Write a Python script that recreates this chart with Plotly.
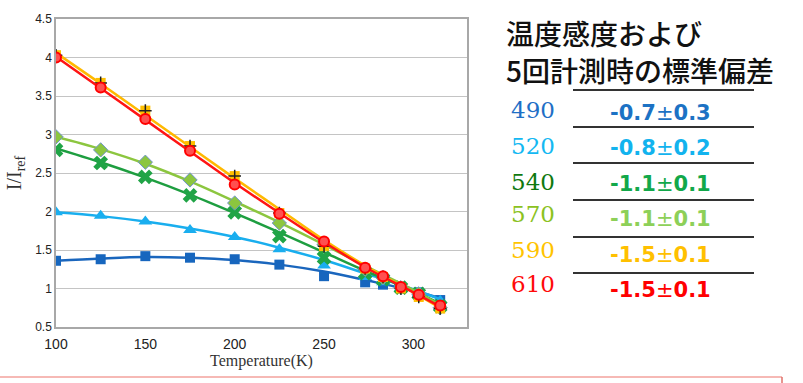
import plotly.graph_objects as go

# Measured relative intensity I/I_ref per emission wavelength
temperature = [100, 125, 150, 175, 200, 225, 250, 273, 283, 293, 303, 315]
i490 = [1.36, 1.38, 1.42, 1.40, 1.38, 1.31, 1.16, 1.08, 1.05, 1.02, 0.95, 0.85]
i520 = [1.99, 1.945, 1.87, 1.76, 1.67, 1.51, 1.30, 1.15, 1.08, 1.01, 0.94, 0.84]
i540 = [2.80, 2.63, 2.45, 2.21, 1.99, 1.68, 1.40, 1.20, 1.12, 1.01, 0.93, 0.77]
i570 = [2.97, 2.80, 2.64, 2.41, 2.11, 1.85, 1.57, 1.25, 1.14, 1.01, 0.93, 0.75]
i590 = [4.03, 3.67, 3.31, 2.85, 2.46, 1.98, 1.55, 1.26, 1.15, 1.00, 0.89, 0.74]
i610 = [4.00, 3.61, 3.20, 2.79, 2.35, 1.97, 1.61, 1.27, 1.16, 1.02, 0.92, 0.78]

# Trend curves
trend_t = [100, 125, 150, 175, 200, 225, 250, 275, 300, 317]
f490 = [1.36, 1.39, 1.41, 1.40, 1.37, 1.31, 1.22, 1.10, 0.97, 0.86]
f520 = [1.99, 1.94, 1.87, 1.78, 1.67, 1.53, 1.37, 1.18, 0.99, 0.84]
f540 = [2.82, 2.64, 2.44, 2.22, 1.98, 1.73, 1.47, 1.21, 0.97, 0.78]
f570 = [2.97, 2.81, 2.62, 2.39, 2.13, 1.86, 1.57, 1.27, 0.98, 0.76]
f590 = [4.06, 3.66, 3.25, 2.84, 2.43, 2.03, 1.63, 1.27, 0.95, 0.72]
f610 = [4.01, 3.60, 3.19, 2.78, 2.37, 1.98, 1.60, 1.25, 0.95, 0.74]

# Sensitivity table
wavelengths = ["490", "520", "540", "570", "590", "610"]
sens_mean = ["-0.7", "-0.8", "-1.1", "-1.1", "-1.5", "-1.5"]
sens_sd = ["0.3", "0.2", "0.1", "0.1", "0.1", "0.1"]
label_colors = ["#1F6FC6", "#14B8F2", "#10790F", "#8CC21F", "#FFC400", "#FF0A0A"]
value_colors = ["#1C72C4", "#12B3EE", "#12A84A", "#8DD058", "#FFC000", "#FF0000"]

W, H = 803, 383
L, R, T, B = 56, 467, 19, 327


def px_x(p):
    return (p - L) / (R - L)


def px_y(p):
    return (B - p) / (B - T)


fig = go.Figure()

series = [
    (i490, f490, "#1A66BD", dict(symbol="square", size=10, color="#1766BE")),
    (i520, f520, "#19AEEE", dict(symbol="triangle-up", size=12, color="#1AAEEF")),
    (i540, f540, "#1E9E40", dict(symbol="x", size=13, color="#20A446")),
    (i570, f570, "#8CC63F", dict(symbol="diamond", size=11, color="#8CC63F",
                                  line=dict(color="#6E94C8", width=1))),
    (i590, f590, "#FFB900", dict(symbol="square", size=10, color="#FFC000")),
    (i610, f610, "#FF1414", dict(symbol="circle", size=10, color="#FF5050",
                                  line=dict(color="#FF0000", width=2))),
]

for vals, fit, lc, mk in series:
    fig.add_trace(go.Scatter(x=trend_t, y=fit, mode="lines",
                             line=dict(color=lc, width=2.5, shape="spline"),
                             hoverinfo="skip"))
    fig.add_trace(go.Scatter(x=temperature, y=vals, mode="markers", marker=mk))
    if vals is i590:
        fig.add_trace(go.Scatter(x=temperature, y=vals, mode="markers",
                                 marker=dict(symbol="cross-thin", size=9,
                                             line=dict(color="#222", width=1.5))))

annotations = []
shapes = []

# Japanese heading
for text, yy in (("温度感度および", 33), ("5回計測時の標準偏差", 70)):
    annotations.append(dict(text=text, x=px_x(504), y=px_y(yy), xref="paper", yref="paper",
                            xanchor="left", yanchor="middle", showarrow=False,
                            font=dict(family="Noto Sans CJK JP", size=28, weight=500,
                                      color="#111")))

label_y = [110, 146, 182, 214, 250, 284]
value_y = [113, 148, 184, 219, 255, 290]
rule_y = [90, 127, 163, 200, 237, 273]
for k in range(6):
    annotations.append(dict(text=wavelengths[k], x=px_x(533), y=px_y(label_y[k]),
                            xref="paper", yref="paper", xanchor="center", yanchor="middle",
                            showarrow=False,
                            font=dict(family="DejaVu Serif", size=23, color=label_colors[k])))
    annotations.append(dict(text=f"<b>{sens_mean[k]}</b>±<b>{sens_sd[k]}</b>",
                            x=px_x(660), y=px_y(value_y[k]),
                            xref="paper", yref="paper", xanchor="center", yanchor="middle",
                            showarrow=False,
                            font=dict(family="DejaVu Sans", size=21, color=value_colors[k])))
    shapes.append(dict(type="line", xref="paper", yref="paper",
                       x0=px_x(573), x1=px_x(754), y0=px_y(rule_y[k]), y1=px_y(rule_y[k]),
                       line=dict(color="#333", width=2)))

# bottom rule
shapes.append(dict(type="line", xref="paper", yref="paper",
                   x0=px_x(0), x1=px_x(782), y0=px_y(377), y1=px_y(377),
                   line=dict(color="#F3A29C", width=1.5)))
shapes.append(dict(type="line", xref="paper", yref="paper",
                   x0=px_x(782), x1=px_x(782), y0=px_y(377), y1=px_y(384),
                   line=dict(color="#E0706A", width=1.5)))

fig.update_layout(
    width=W, height=H,
    margin=dict(l=L, r=W - R, t=T, b=H - B),
    paper_bgcolor="white", plot_bgcolor="white",
    showlegend=False,
    annotations=annotations, shapes=shapes,
    xaxis=dict(range=[100, 330], tickvals=[100, 150, 200, 250, 300],
               showgrid=False, zeroline=False, showline=True, linecolor="#A8A8A8",
               linewidth=1.5, mirror=True, ticks="", ticklabelstandoff=3,
               tickfont=dict(family="Liberation Sans", size=14, color="#222"),
               title=dict(text="Temperature(K)", standoff=4,
                          font=dict(family="Liberation Serif", size=16, color="#333"))),
    yaxis=dict(range=[0.5, 4.5], dtick=0.5, tick0=0.5,
               showgrid=True, gridcolor="#C4C4C4", gridwidth=1,
               zeroline=False, showline=True, linecolor="#A8A8A8", linewidth=1.5,
               mirror=True, ticks="",
               tickfont=dict(family="Liberation Sans", size=12, color="#222"),
               title=dict(text="I/I<sub>ref</sub>", standoff=8,
                          font=dict(family="Liberation Serif", size=20, color="#333"))),
)

fig.write_html("out.html")
